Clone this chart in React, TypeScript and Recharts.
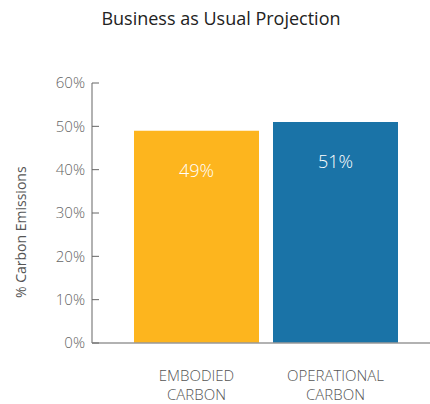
import { BarChart, Bar, XAxis, YAxis, Cell, LabelList } from "recharts"

const categories = ["EMBODIED CARBON", "OPERATIONAL CARBON"]
const shares = [49, 51]
const yTicks = [0, 10, 20, 30, 40, 50, 60]
const barColors = ["#FDB51E", "#1A73A7"]

const data = categories.map((name, i) => ({ name, value: shares[i] }))

const FONT = "'Open Sans', sans-serif"

function CategoryTick({ x, y, payload }: any) {
  const words = String(payload.value).split(" ")
  return (
    <text x={x} y={y} textAnchor="middle" fill="#555" fontSize={15} fontWeight={300} fontFamily={FONT}>
      {words.map((w, i) => (
        <tspan key={i} x={x} dy={i === 0 ? 30 : 19}>
          {w}
        </tspan>
      ))}
    </text>
  )
}

function ValueLabel({ x, y, width, value }: any) {
  return (
    <text
      x={x + width / 2}
      y={y + 46}
      textAnchor="middle"
      fill="#fff"
      fontSize={18}
      fontWeight={300}
      fontFamily={FONT}
    >
      {`${value}%`}
    </text>
  )
}

export default function App() {
  return (
    <div style={{ position: "absolute", left: 0, top: 0, width: 430, height: 404, background: "#fff" }}>
      <div
        style={{
          position: "absolute",
          left: 0,
          top: 6,
          width: 442,
          textAlign: "center",
          fontFamily: FONT,
          fontSize: 18,
          color: "#222",
        }}
      >
        Business as Usual Projection
      </div>
      <BarChart width={430} height={404} data={data} margin={{ top: 83, right: 0, bottom: 0, left: 0 }}>
        <XAxis
          dataKey="name"
          axisLine={{ stroke: "#999", strokeWidth: 1.5 }}
          tickLine={false}
          tick={<CategoryTick />}
          padding={{ left: 35, right: 25 }}
          height={61}
          interval={0}
        />
        <YAxis
          width={92}
          domain={[0, 60]}
          ticks={yTicks}
          tickFormatter={(v) => `${v}%`}
          axisLine={{ stroke: "#999", strokeWidth: 1.5 }}
          tickLine={{ stroke: "#666" }}
          tickSize={-7}
          tickMargin={14}
          tick={{ fill: "#666", fontSize: 15, fontWeight: 300, fontFamily: FONT }}
          label={{
            value: "% Carbon Emissions",
            angle: -90,
            position: "insideLeft",
            offset: 21,
            dy: 85,
            fill: "#555",
            fontSize: 14,
            fontWeight: 400,
            fontFamily: FONT,
          }}
        />
        <Bar dataKey="value" barSize={125} isAnimationActive={false}>
          {data.map((d, i) => (
            <Cell key={d.name} fill={barColors[i]} />
          ))}
          <LabelList dataKey="value" content={<ValueLabel />} />
        </Bar>
      </BarChart>
    </div>
  )
}
